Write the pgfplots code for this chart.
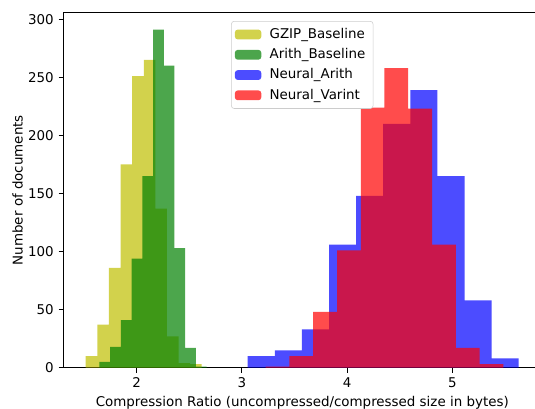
\documentclass[border=0pt]{standalone}
\usepackage{fontspec}
\setmainfont{DejaVu Sans}
\usepackage{pgfplots}
\pgfplotsset{compat=1.18}
\definecolor{myyellow}{rgb}{0.75,0.75,0}
\definecolor{mygreen}{rgb}{0,0.5,0}
\definecolor{myblue}{rgb}{0,0,1}
\definecolor{myred}{rgb}{1,0,0}
\pgfplotsset{histlegend/.style={legend image code/.code={\fill[##1] (0bp,-3.5bp) rectangle (19bp,3.5bp);}}}
\begin{document}
\begin{tikzpicture}
\begin{axis}[
  scale only axis, width=343.8bp, height=255.74bp,
  xmin=1.304, xmax=5.843, ymin=0, ymax=305.8,
  xtick={2,3,4,5}, ytick={0,50,100,150,200,250,300},
  tick align=outside, major tick length=3.5bp,
  xtick pos=bottom, ytick pos=left,
  every tick/.style={black, line width=0.8bp},
  axis line style={black, line width=0.8bp},
  tick label style={font=\fontsize{9.7}{11.6}\selectfont},
  /pgf/number format/assume math mode=true,
  every axis x label/.style={at={(axis description cs:0.5,-0.0993)}, anchor=center, font=\fontsize{9.7}{11.6}\selectfont},
  every axis y label/.style={at={(axis description cs:-0.096,0.5)}, rotate=90, anchor=center, font=\fontsize{9.7}{11.6}\selectfont},
  xlabel={Compression Ratio (uncompressed/compressed size in bytes)},
  ylabel={Number of documents},
  legend style={at={(axis description cs:0.5,0.976)}, anchor=north, draw=black!20, rounded corners=2bp, fill=white,
    font=\fontsize{9.7}{11.6}\selectfont, inner xsep=2.5bp, inner ysep=2.2bp,
    nodes={text height=7.3bp, text depth=2bp, inner ysep=2.65bp, inner xsep=3bp},
    /tikz/every odd column/.append style={column sep=3bp}},
  legend cell align=left,
  histlegend,
]
\addplot[ybar interval, fill=myyellow, fill opacity=0.7, draw=none] table {
x y
1.515 10
1.625 37
1.736 86
1.846 175
1.956 251
2.067 265
2.177 137
2.287 27
2.398 4
2.508 3
2.618 0
};
\addlegendentry{GZIP\_Baseline}
\addplot[ybar interval, fill=mygreen, fill opacity=0.7, draw=none] table {
x y
1.645 5
1.747 18
1.849 41
1.951 94
2.053 165
2.155 291
2.257 260
2.359 103
2.461 17
2.563 1
2.665 0
};
\addlegendentry{Arith\_Baseline}
\addplot[ybar interval, fill=myblue, fill opacity=0.7, draw=none] table {
x y
3.055 10
3.313 15
3.570 33
3.828 106
4.085 148
4.343 210
4.601 239
4.858 165
5.116 58
5.373 8
5.631 0
};
\addlegendentry{Neural\_Arith}
\addplot[ybar interval, fill=myred, fill opacity=0.7, draw=none] table {
x y
3.226 1
3.452 10
3.678 48
3.904 101
4.130 224
4.355 258
4.581 223
4.807 106
5.033 17
5.259 3
5.485 0
};
\addlegendentry{Neural\_Varint}
\end{axis}
\pgfresetboundingbox
\path[use as bounding box] (-45.72bp,-29.74bp) rectangle (339.48bp,264.74bp);
\end{tikzpicture}
\end{document}
